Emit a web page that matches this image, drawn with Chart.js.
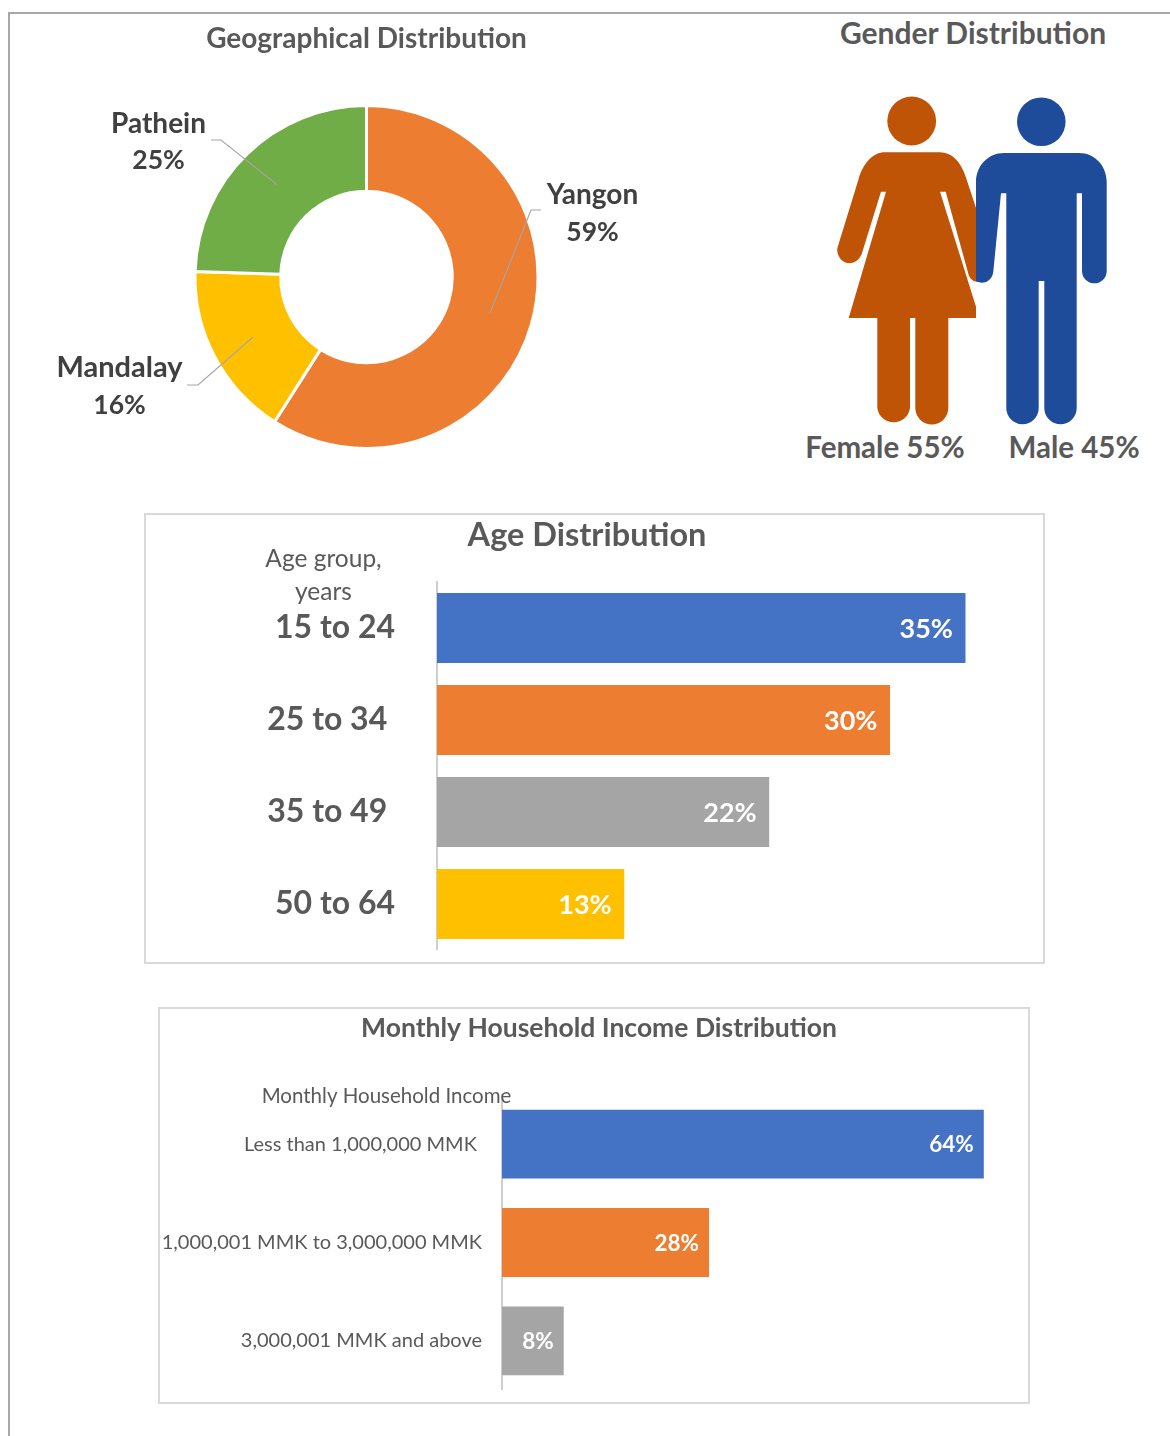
<!DOCTYPE html>
<html><head><meta charset="utf-8">
<script src="https://cdn.jsdelivr.net/npm/chart.js@4"></script>
<style>
html,body{margin:0;padding:0;background:#fff;width:1170px;height:1436px;overflow:hidden;font-family:Lato,sans-serif}
canvas,.box,.line,.t,svg{position:absolute;display:block}
.t{transform:translate(-50%,-50%);white-space:nowrap;color:#595959;font-weight:700}
.box{border:2px solid #d9d9d9;box-sizing:border-box;background:#fff}
.line{background:#a9a6a6}
</style></head><body>
<div class="line" style="left:8px;top:12px;width:1162px;height:2px"></div>
<div class="line" style="left:8px;top:12px;width:2px;height:1424px"></div>
<div class="box" style="left:144px;top:513px;width:901px;height:451px"></div>
<div class="box" style="left:158px;top:1007px;width:872px;height:397px"></div>
<canvas id="geo" width="713" height="436" style="left:10px;top:14px"></canvas>
<svg width="340" height="340" viewBox="820 90 340 340" style="left:820px;top:90px">
<circle cx="911.7" cy="121" r="24.4" fill="#BF5407"/>
<path fill="#BF5407" d="M885 152.3H940C952 152.3 961 162 965.7 176.7L976 208V281.5C971.5 281 969 277 968 272.5L945.7 191.7H940L976 306.7V318H948.3V408A16.5 16.5 0 0 1 915.3 408V318H910V408A16.5 16.5 0 0 1 877.3 408V318H848.7L886 191.7H881L861.7 254C859 260 855 263 849.3 263.2C842 263 836.5 256 837.3 248.3L858.3 180C863 163 873 152.3 885 152.3Z"/>
<circle cx="1041.3" cy="121.7" r="24.3" fill="#1E4C9A"/>
<path fill="#1E4C9A" d="M1004 153H1079C1095 153 1106.7 166 1106.7 182V271A12.3 12.3 0 0 1 1082 271V193.3H1076.7V408A16.2 16.2 0 0 1 1044.3 408V281H1038.7V408A16.2 16.2 0 0 1 1006.3 408V193.3H1001L993.3 271.7C992.5 278 988 282.7 981.7 282.7C979.5 282.7 978 282.3 976 281.5V182C976 166 988 153 1004 153Z"/>
</svg>
<div class="t" style="left:973px;top:32px;font-size:30px">Gender Distribution</div>
<div class="t" style="left:885px;top:446px;font-size:29.5px">Female 55%</div>
<div class="t" style="left:1074px;top:446px;font-size:29.5px">Male 45%</div>
<canvas id="age" width="908" height="436" style="left:133px;top:514px"></canvas>
<canvas id="income" width="878" height="382" style="left:160px;top:1008px"></canvas>
<script>
const geoLabels = ['Yangon','Mandalay','Pathein'];
const geoValues = [59,16.5,24.5];
const geoText = ['59%','16%','25%'];
const geoColors = ['#ED7D31','#FFC000','#70AD47'];
const ageGroups = ['15 to 24','25 to 34 ','35 to 49 ','50 to 64'];
const ageValues = [35,30,22,12.4];
const ageText = ['35%','30%','22%','13%'];
const ageColors = ['#4472C4','#ED7D31','#A5A5A5','#FFC000'];
const incomeGroups = ['Less than 1,000,000 MMK ','1,000,001 MMK to 3,000,000 MMK','3,000,001 MMK and above'];
const incomeValues = [64,27.5,8.2];
const incomeText = ['64%','28%','8%'];
const incomeColors = ['#4472C4','#ED7D31','#A5A5A5'];
const FONT = 'Lato, sans-serif';
const GREY = '#595959';
Chart.defaults.font.family = FONT;
Chart.defaults.animation = false;

const geoCallouts = {
  id:'geoCallouts',
  afterDatasetsDraw(chart){
    const {ctx} = chart;
    const place = [
      {elbow:[531,210], end:[541,210], x:592.5, y:[195,232.5], size:28},
      {elbow:[198,385], end:[187,385], x:119.5, y:[368,405.5], size:29},
      {elbow:[221,140], end:[211,140], x:158.5, y:[124,160.5], size:28}
    ];
    const ox=10, oy=14;
    chart.getDatasetMeta(0).data.forEach((arc,i)=>{
      const c = arc.getCenterPoint(), p = place[i];
      ctx.save();
      ctx.strokeStyle='#a6a6a6'; ctx.lineWidth=1.2;
      ctx.beginPath(); ctx.moveTo(c.x,c.y);
      ctx.lineTo(p.elbow[0]-ox,p.elbow[1]-oy);
      ctx.lineTo(p.end[0]-ox,p.end[1]-oy); ctx.stroke();
      ctx.fillStyle='#404040'; ctx.font='700 '+p.size+'px '+FONT;
      ctx.textAlign='center'; ctx.textBaseline='middle';
      ctx.fillText(geoLabels[i],p.x-ox,p.y[0]-oy);
      ctx.font='700 26.5px '+FONT;
      ctx.fillText(geoText[i],p.x-ox,p.y[1]-oy);
      ctx.restore();
    });
  }
};
new Chart(document.getElementById('geo'),{
  type:'doughnut',
  data:{labels:geoLabels,datasets:[{data:geoValues,backgroundColor:geoColors,borderColor:'#fff',borderWidth:3}]},
  options:{responsive:false,cutout:'50%',
    plugins:{legend:{display:false},tooltip:{enabled:false},
      title:{display:true,text:'Geographical Distribution',color:GREY,
        font:{size:28,weight:'700',lineHeight:1},padding:{top:11,bottom:51}}}},
  plugins:[geoCallouts]
});

function barLabels(texts,size,inset){
  return {id:'barLabels',afterDatasetsDraw(chart){
    const {ctx}=chart;
    chart.getDatasetMeta(0).data.forEach((b,i)=>{
      ctx.save(); ctx.fillStyle='#fff'; ctx.font='700 '+size+'px '+FONT;
      ctx.textAlign='right'; ctx.textBaseline='middle';
      ctx.fillText(texts[i],b.x-inset,b.y+1); ctx.restore();
    });
  }};
}
function captions(list){
  return {id:'captions',afterDraw(chart){
    const {ctx}=chart;
    list.forEach(c=>{ctx.save();ctx.fillStyle=GREY;ctx.font='400 '+c.size+'px '+FONT;
      ctx.textAlign='center';ctx.textBaseline='middle';ctx.fillText(c.text,c.x,c.y);ctx.restore();});
  }};
}
function barChart(id,labels,values,text,colors,o){
  new Chart(document.getElementById(id),{
    type:'bar',
    data:{labels,datasets:[{data:values,backgroundColor:colors,borderWidth:0,barPercentage:o.bar,categoryPercentage:1}]},
    options:{responsive:false,indexAxis:'y',
      scales:{
        x:{display:false,min:0,max:o.max},
        y:{afterFit(s){s.width=o.axisW;s.paddingTop=0;s.paddingBottom=0;},
           grid:{display:false,drawTicks:false},
           border:{display:true,color:'#cfcfcf',width:2},
           ticks:{color:GREY,padding:o.pad,autoSkip:false,font:{size:o.tick,weight:o.tickW}}}
      },
      plugins:{legend:{display:false},tooltip:{enabled:false},
        title:{display:true,text:o.title,color:GREY,font:{size:o.tSize,weight:'700',lineHeight:1},
          padding:{top:o.tTop,bottom:o.tBottom}}}},
    plugins:[barLabels(text,o.lab,o.inset),captions(o.caps)]
  });
}
barChart('age',ageGroups,ageValues,ageText,ageColors,{
  bar:.76,max:40,axisW:304,pad:42,tick:32,tickW:'700',
  title:'Age Distribution',tSize:32.5,tTop:5,tBottom:30.5,lab:27,inset:12.5,
  caps:[{text:'Age group,',x:190.5,y:45,size:24.5},{text:'years',x:190.5,y:78,size:24.5}]
});
barChart('income',incomeGroups,incomeValues,incomeText,incomeColors,{
  bar:.70,max:71.2,axisW:342,pad:20,tick:20,tickW:'400',
  title:'Monthly Household Income Distribution',tSize:26.5,tTop:7,tBottom:53.5,lab:22.5,inset:10,
  caps:[{text:'Monthly Household Income',x:226.5,y:88,size:20.5}]
});
</script>
</body></html>
